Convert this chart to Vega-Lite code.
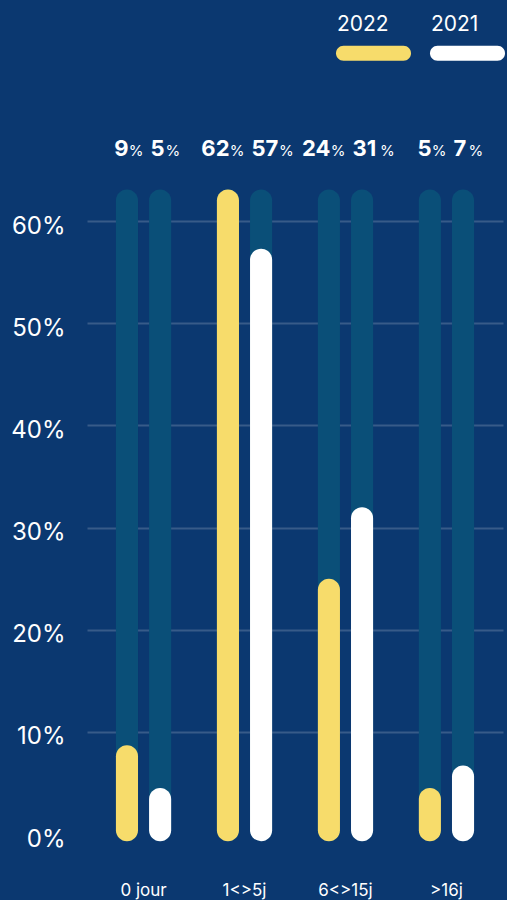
{
  "$schema": "https://vega.github.io/schema/vega-lite/v6.json",
  "width": 416,
  "height": 715,
  "autosize": {"type": "none"},
  "padding": {"left": 87, "top": 119, "right": 4, "bottom": 66},
  "background": "#0b3870",
  "config": {
    "view": {"stroke": null},
    "font": "Inter",
    "text": {"font": "Inter", "color": "white"}
  },
  "data": {
    "values": [
      {"group": "0 jour", "year": "2022", "value": 8.7, "label": "9"},
      {"group": "0 jour", "year": "2021", "value": 4.5, "label": "5"},
      {"group": "1<>5j", "year": "2022", "value": 63.1, "label": "62"},
      {"group": "1<>5j", "year": "2021", "value": 57.3, "label": "57"},
      {"group": "6<>15j", "year": "2022", "value": 25.0, "label": "24"},
      {"group": "6<>15j", "year": "2021", "value": 32.0, "label": "31"},
      {"group": ">16j", "year": "2022", "value": 4.5, "label": "5"},
      {"group": ">16j", "year": "2021", "value": 6.7, "label": "7"}
    ]
  },
  "encoding": {
    "x": {
      "field": "group",
      "type": "nominal",
      "sort": ["0 jour", "1<>5j", "6<>15j", ">16j"],
      "scale": {"paddingInner": 0, "paddingOuter": 0.06},
      "axis": {
        "title": null,
        "domain": false,
        "ticks": false,
        "labelAngle": 0,
        "labelPadding": 48,
        "labelFontSize": 17,
        "labelColor": "white",
        "labelFont": "Inter",
        "labelBaseline": "top"
      }
    }
  },
  "layer": [
    {
      "mark": {"type": "bar", "cornerRadius": 11, "color": "#0a4f78"},
      "encoding": {
        "xOffset": {"field": "year", "type": "nominal", "sort": ["2022", "2021"], "scale": {"paddingInner": 0.3333, "paddingOuter": 0.69}},
        "y": {
          "datum": 63.1,
          "type": "quantitative",
          "scale": {"domain": [0, 70], "nice": false},
          "axis": {
            "title": null,
            "values": [0, 10, 20, 30, 40, 50, 60],
            "labelExpr": "datum.value + '%'",
            "domain": false,
            "ticks": false,
            "grid": true,
            "gridColor": "white",
            "gridWidth": 2,
            "gridOpacity": {"condition": {"test": "datum.value === 0", "value": 0}, "value": 0.18},
            "labelPadding": 22,
            "labelOffset": 5,
            "labelFontSize": 24,
            "labelColor": "white",
            "labelFont": "Inter",
            "labelFontWeight": "normal"
          }
        },
        "y2": {"datum": -0.7}
      }
    },
    {
      "mark": {"type": "bar", "cornerRadius": 11},
      "encoding": {
        "xOffset": {"field": "year", "type": "nominal", "sort": ["2022", "2021"]},
        "y": {"field": "value", "type": "quantitative"},
        "y2": {"datum": -0.7},
        "color": {
          "field": "year",
          "type": "nominal",
          "scale": {"domain": ["2022", "2021"], "range": ["#f7dc6b", "#ffffff"]},
          "legend": {
            "title": null,
            "orient": "none",
            "direction": "horizontal",
            "legendX": 249,
            "legendY": -132,
            "padding": 0,
            "symbolType": "M -0.8 0.56 L 0.8 0.56 A 0.2 0.2 0 0 1 0.8 0.96 L -0.8 0.96 A 0.2 0.2 0 0 1 -0.8 0.56 Z",
            "symbolSize": 5625,
            "symbolStrokeWidth": 0,
            "symbolOpacity": 1,
            "labelOffset": -74,
            "labelFontSize": 21,
            "labelFont": "Inter",
            "labelColor": "white",
            "columnPadding": 19
          }
        }
      }
    },
    {
      "transform": [{"filter": "datum.year === '2022'"}],
      "mark": {"type": "text", "align": "right", "baseline": "alphabetic", "dx": -15, "fontSize": 22, "fontWeight": "bold"},
      "encoding": {"y": {"datum": 66.4}, "text": {"field": "label"}}
    },
    {
      "transform": [{"filter": "datum.year === '2022'"}],
      "mark": {"type": "text", "align": "right", "baseline": "alphabetic", "dx": 0, "fontSize": 15},
      "encoding": {"y": {"datum": 66.4}, "text": {"value": "%"}}
    },
    {
      "transform": [{"filter": "datum.year === '2021'"}],
      "mark": {"type": "text", "align": "left", "baseline": "alphabetic", "dx": 7, "fontSize": 22, "fontWeight": "bold"},
      "encoding": {"y": {"datum": 66.4}, "text": {"field": "label"}}
    },
    {
      "transform": [{"filter": "datum.year === '2021' && length(datum.label) === 1"}],
      "mark": {"type": "text", "align": "left", "baseline": "alphabetic", "dx": 22, "fontSize": 15},
      "encoding": {"y": {"datum": 66.4}, "text": {"value": "%"}}
    },
    {
      "transform": [{"filter": "datum.year === '2021' && length(datum.label) === 2"}],
      "mark": {"type": "text", "align": "left", "baseline": "alphabetic", "dx": 34.5, "fontSize": 15},
      "encoding": {"y": {"datum": 66.4}, "text": {"value": "%"}}
    }
  ]
}
